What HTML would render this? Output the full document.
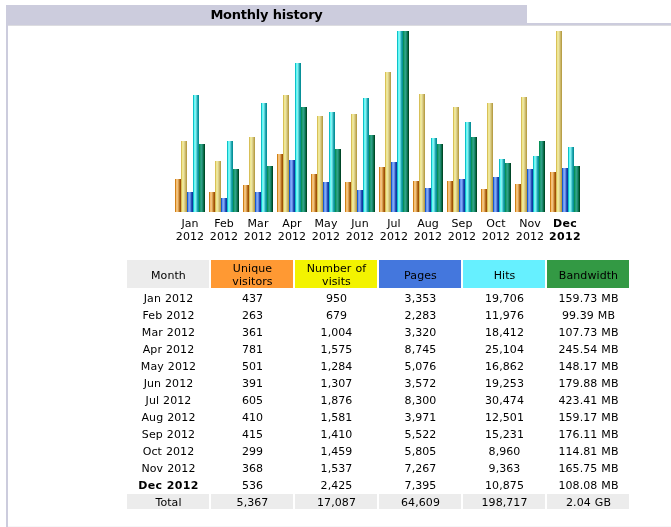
<!DOCTYPE html>
<html><head><meta charset="utf-8"><title>Monthly history</title>
<style>
html,body{margin:0;padding:0;background:#fff;}
body{width:671px;height:527px;position:relative;overflow:hidden;font-family:"DejaVu Sans","Liberation Sans",sans-serif;font-size:11px;color:#000;letter-spacing:0.08px;word-spacing:0.4px;}
.abs{position:absolute;}
#title{left:6px;top:5px;width:521px;height:20px;background:#ccccdd;font-weight:bold;font-size:13px;line-height:19px;text-align:center;letter-spacing:-0.25px;}
#bt{left:6px;top:23px;width:665px;height:2px;background:#ccccdd;}
#bs{left:8px;top:25px;width:663px;height:1px;background:#dcdce0;}
#bl{left:6px;top:5px;width:2px;height:522px;background:#ccccdd;}
#bb{left:8px;top:526px;width:663px;height:1px;background:#f6f6f8;}
.bar{position:absolute;width:6px;}
.u{background:linear-gradient(90deg,#d08018 0px,#d08018 1px,#f8c070 1px,#f8c070 2px,#f0c080 2px,#f0c080 3px,#d8a050 3px,#d8a050 4px,#b87020 4px,#b87020 5px,#a05008 5px,#a05008 6px);}
.v{background:linear-gradient(90deg,#d8c058 0px,#d8c058 1px,#f0e890 1px,#f0e890 2px,#ece4a0 2px,#ece4a0 3px,#dcd088 3px,#dcd088 4px,#ccb868 4px,#ccb868 5px,#b8a048 5px,#b8a048 6px);}
.p{background:linear-gradient(90deg,#1858d0 0px,#1858d0 1px,#6898f0 1px,#6898f0 2px,#80a8f8 2px,#80a8f8 3px,#6088e0 3px,#6088e0 4px,#2850b8 4px,#2850b8 5px,#1038a0 5px,#1038a0 6px);}
.h{background:linear-gradient(90deg,#10c0c8 0px,#10c0c8 1px,#60fcf8 1px,#60fcf8 2px,#88f0f0 2px,#88f0f0 3px,#58d0d8 3px,#58d0d8 4px,#20a8b0 4px,#20a8b0 5px,#089098 5px,#089098 6px);}
.k{background:linear-gradient(90deg,#089058 0px,#089058 1px,#20a078 1px,#20a078 2px,#30a088 2px,#30a088 3px,#208870 3px,#208870 4px,#087048 4px,#087048 5px,#004828 5px,#004828 6px);}
.ml{position:absolute;top:217px;width:34px;text-align:center;line-height:13px;white-space:nowrap;}
.cell{position:absolute;width:81px;padding-left:1px;text-align:center;white-space:nowrap;}
.hd{top:260px;height:28px;}
.r{height:15px;line-height:17px;}
.g{background:#ececec;}
</style></head><body>
<div id="title" class="abs">Monthly history</div>
<div id="bt" class="abs"></div>
<div id="bs" class="abs"></div>
<div id="bl" class="abs"></div>
<div id="bb" class="abs"></div>

<div class="bar u" style="left:175px;top:179px;height:33px"></div>
<div class="bar v" style="left:181px;top:141px;height:71px"></div>
<div class="bar p" style="left:187px;top:192px;height:20px"></div>
<div class="bar h" style="left:193px;top:95px;height:117px"></div>
<div class="bar k" style="left:199px;top:144px;height:68px"></div>
<div class="ml" style="left:173px">Jan<br>2012</div>
<div class="bar u" style="left:209px;top:192px;height:20px"></div>
<div class="bar v" style="left:215px;top:161px;height:51px"></div>
<div class="bar p" style="left:221px;top:198px;height:14px"></div>
<div class="bar h" style="left:227px;top:141px;height:71px"></div>
<div class="bar k" style="left:233px;top:169px;height:43px"></div>
<div class="ml" style="left:207px">Feb<br>2012</div>
<div class="bar u" style="left:243px;top:185px;height:27px"></div>
<div class="bar v" style="left:249px;top:137px;height:75px"></div>
<div class="bar p" style="left:255px;top:192px;height:20px"></div>
<div class="bar h" style="left:261px;top:103px;height:109px"></div>
<div class="bar k" style="left:267px;top:166px;height:46px"></div>
<div class="ml" style="left:241px">Mar<br>2012</div>
<div class="bar u" style="left:277px;top:154px;height:58px"></div>
<div class="bar v" style="left:283px;top:95px;height:117px"></div>
<div class="bar p" style="left:289px;top:160px;height:52px"></div>
<div class="bar h" style="left:295px;top:63px;height:149px"></div>
<div class="bar k" style="left:301px;top:107px;height:105px"></div>
<div class="ml" style="left:275px">Apr<br>2012</div>
<div class="bar u" style="left:311px;top:174px;height:38px"></div>
<div class="bar v" style="left:317px;top:116px;height:96px"></div>
<div class="bar p" style="left:323px;top:182px;height:30px"></div>
<div class="bar h" style="left:329px;top:112px;height:100px"></div>
<div class="bar k" style="left:335px;top:149px;height:63px"></div>
<div class="ml" style="left:309px">May<br>2012</div>
<div class="bar u" style="left:345px;top:182px;height:30px"></div>
<div class="bar v" style="left:351px;top:114px;height:98px"></div>
<div class="bar p" style="left:357px;top:190px;height:22px"></div>
<div class="bar h" style="left:363px;top:98px;height:114px"></div>
<div class="bar k" style="left:369px;top:135px;height:77px"></div>
<div class="ml" style="left:343px">Jun<br>2012</div>
<div class="bar u" style="left:379px;top:167px;height:45px"></div>
<div class="bar v" style="left:385px;top:72px;height:140px"></div>
<div class="bar p" style="left:391px;top:162px;height:50px"></div>
<div class="bar h" style="left:397px;top:31px;height:181px"></div>
<div class="bar k" style="left:403px;top:31px;height:181px"></div>
<div class="ml" style="left:377px">Jul<br>2012</div>
<div class="bar u" style="left:413px;top:181px;height:31px"></div>
<div class="bar v" style="left:419px;top:94px;height:118px"></div>
<div class="bar p" style="left:425px;top:188px;height:24px"></div>
<div class="bar h" style="left:431px;top:138px;height:74px"></div>
<div class="bar k" style="left:437px;top:144px;height:68px"></div>
<div class="ml" style="left:411px">Aug<br>2012</div>
<div class="bar u" style="left:447px;top:181px;height:31px"></div>
<div class="bar v" style="left:453px;top:107px;height:105px"></div>
<div class="bar p" style="left:459px;top:179px;height:33px"></div>
<div class="bar h" style="left:465px;top:122px;height:90px"></div>
<div class="bar k" style="left:471px;top:137px;height:75px"></div>
<div class="ml" style="left:445px">Sep<br>2012</div>
<div class="bar u" style="left:481px;top:189px;height:23px"></div>
<div class="bar v" style="left:487px;top:103px;height:109px"></div>
<div class="bar p" style="left:493px;top:177px;height:35px"></div>
<div class="bar h" style="left:499px;top:159px;height:53px"></div>
<div class="bar k" style="left:505px;top:163px;height:49px"></div>
<div class="ml" style="left:479px">Oct<br>2012</div>
<div class="bar u" style="left:515px;top:184px;height:28px"></div>
<div class="bar v" style="left:521px;top:97px;height:115px"></div>
<div class="bar p" style="left:527px;top:169px;height:43px"></div>
<div class="bar h" style="left:533px;top:156px;height:56px"></div>
<div class="bar k" style="left:539px;top:141px;height:71px"></div>
<div class="ml" style="left:513px">Nov<br>2012</div>
<div class="bar u" style="left:550px;top:172px;height:40px"></div>
<div class="bar v" style="left:556px;top:31px;height:181px"></div>
<div class="bar p" style="left:562px;top:168px;height:44px"></div>
<div class="bar h" style="left:568px;top:147px;height:65px"></div>
<div class="bar k" style="left:574px;top:166px;height:46px"></div>
<div class="ml" style="left:548px;font-weight:bold;letter-spacing:0.3px">Dec<br>2012</div>


<div class="cell hd" style="left:127px;background:#ececec;line-height:32px;"><div style="padding-top:0px">Month</div></div>
<div class="cell hd" style="left:211px;background:#ff9933;line-height:13px;"><div style="padding-top:2px">Unique<br>visitors</div></div>
<div class="cell hd" style="left:295px;background:#f3f300;line-height:13px;"><div style="padding-top:2px">Number of<br>visits</div></div>
<div class="cell hd" style="left:379px;background:#4477dd;line-height:32px;"><div style="padding-top:0px">Pages</div></div>
<div class="cell hd" style="left:463px;background:#66f0ff;line-height:32px;"><div style="padding-top:0px">Hits</div></div>
<div class="cell hd" style="left:547px;background:#339944;line-height:32px;"><div style="padding-top:0px">Bandwidth</div></div>
<div class="cell r" style="left:127px;top:290px">Jan 2012</div>
<div class="cell r" style="left:211px;top:290px">437</div>
<div class="cell r" style="left:295px;top:290px">950</div>
<div class="cell r" style="left:379px;top:290px">3,353</div>
<div class="cell r" style="left:463px;top:290px">19,706</div>
<div class="cell r" style="left:547px;top:290px">159.73 MB</div>
<div class="cell r" style="left:127px;top:307px">Feb 2012</div>
<div class="cell r" style="left:211px;top:307px">263</div>
<div class="cell r" style="left:295px;top:307px">679</div>
<div class="cell r" style="left:379px;top:307px">2,283</div>
<div class="cell r" style="left:463px;top:307px">11,976</div>
<div class="cell r" style="left:547px;top:307px">99.39 MB</div>
<div class="cell r" style="left:127px;top:324px">Mar 2012</div>
<div class="cell r" style="left:211px;top:324px">361</div>
<div class="cell r" style="left:295px;top:324px">1,004</div>
<div class="cell r" style="left:379px;top:324px">3,320</div>
<div class="cell r" style="left:463px;top:324px">18,412</div>
<div class="cell r" style="left:547px;top:324px">107.73 MB</div>
<div class="cell r" style="left:127px;top:341px">Apr 2012</div>
<div class="cell r" style="left:211px;top:341px">781</div>
<div class="cell r" style="left:295px;top:341px">1,575</div>
<div class="cell r" style="left:379px;top:341px">8,745</div>
<div class="cell r" style="left:463px;top:341px">25,104</div>
<div class="cell r" style="left:547px;top:341px">245.54 MB</div>
<div class="cell r" style="left:127px;top:358px">May 2012</div>
<div class="cell r" style="left:211px;top:358px">501</div>
<div class="cell r" style="left:295px;top:358px">1,284</div>
<div class="cell r" style="left:379px;top:358px">5,076</div>
<div class="cell r" style="left:463px;top:358px">16,862</div>
<div class="cell r" style="left:547px;top:358px">148.17 MB</div>
<div class="cell r" style="left:127px;top:375px">Jun 2012</div>
<div class="cell r" style="left:211px;top:375px">391</div>
<div class="cell r" style="left:295px;top:375px">1,307</div>
<div class="cell r" style="left:379px;top:375px">3,572</div>
<div class="cell r" style="left:463px;top:375px">19,253</div>
<div class="cell r" style="left:547px;top:375px">179.88 MB</div>
<div class="cell r" style="left:127px;top:392px">Jul 2012</div>
<div class="cell r" style="left:211px;top:392px">605</div>
<div class="cell r" style="left:295px;top:392px">1,876</div>
<div class="cell r" style="left:379px;top:392px">8,300</div>
<div class="cell r" style="left:463px;top:392px">30,474</div>
<div class="cell r" style="left:547px;top:392px">423.41 MB</div>
<div class="cell r" style="left:127px;top:409px">Aug 2012</div>
<div class="cell r" style="left:211px;top:409px">410</div>
<div class="cell r" style="left:295px;top:409px">1,581</div>
<div class="cell r" style="left:379px;top:409px">3,971</div>
<div class="cell r" style="left:463px;top:409px">12,501</div>
<div class="cell r" style="left:547px;top:409px">159.17 MB</div>
<div class="cell r" style="left:127px;top:426px">Sep 2012</div>
<div class="cell r" style="left:211px;top:426px">415</div>
<div class="cell r" style="left:295px;top:426px">1,410</div>
<div class="cell r" style="left:379px;top:426px">5,522</div>
<div class="cell r" style="left:463px;top:426px">15,231</div>
<div class="cell r" style="left:547px;top:426px">176.11 MB</div>
<div class="cell r" style="left:127px;top:443px">Oct 2012</div>
<div class="cell r" style="left:211px;top:443px">299</div>
<div class="cell r" style="left:295px;top:443px">1,459</div>
<div class="cell r" style="left:379px;top:443px">5,805</div>
<div class="cell r" style="left:463px;top:443px">8,960</div>
<div class="cell r" style="left:547px;top:443px">114.81 MB</div>
<div class="cell r" style="left:127px;top:460px">Nov 2012</div>
<div class="cell r" style="left:211px;top:460px">368</div>
<div class="cell r" style="left:295px;top:460px">1,537</div>
<div class="cell r" style="left:379px;top:460px">7,267</div>
<div class="cell r" style="left:463px;top:460px">9,363</div>
<div class="cell r" style="left:547px;top:460px">165.75 MB</div>
<div class="cell r" style="left:127px;top:477px;font-weight:bold;letter-spacing:0.3px">Dec 2012</div>
<div class="cell r" style="left:211px;top:477px">536</div>
<div class="cell r" style="left:295px;top:477px">2,425</div>
<div class="cell r" style="left:379px;top:477px">7,395</div>
<div class="cell r" style="left:463px;top:477px">10,875</div>
<div class="cell r" style="left:547px;top:477px">108.08 MB</div>
<div class="cell r g" style="left:127px;top:494px">Total</div>
<div class="cell r g" style="left:211px;top:494px">5,367</div>
<div class="cell r g" style="left:295px;top:494px">17,087</div>
<div class="cell r g" style="left:379px;top:494px">64,609</div>
<div class="cell r g" style="left:463px;top:494px">198,717</div>
<div class="cell r g" style="left:547px;top:494px">2.04 GB</div>
</body></html>
